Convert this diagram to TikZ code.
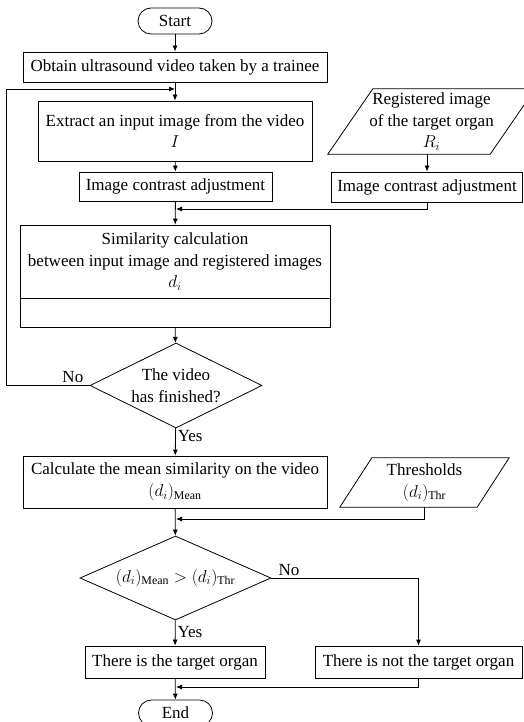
\documentclass[tikz,border=0pt]{standalone}
\usepackage{fontspec}
\setmainfont{Liberation Serif}
\usetikzlibrary{shapes.geometric,arrows.meta}

\begin{document}
\begin{tikzpicture}[x=1pt,y=-1pt,font=\fontsize{17}{21.5}\selectfont,
  box/.style={draw,rectangle,align=center,inner sep=0pt,line width=0.8pt},
  term/.style={draw,rectangle,rounded corners=13pt,minimum width=74,minimum height=26,inner sep=0pt,line width=0.8pt},
  decide/.style={draw,diamond,aspect=2.1,align=center,inner sep=0pt,line width=0.8pt},
  io/.style={align=center,inner sep=0pt},
  flow/.style={-{Latex[length=6pt,width=5pt]},line width=0.8pt},
  lbl/.style={inner sep=2pt}]
\useasboundingbox (0,0) rectangle (523,722);
\node[term] (Start) at (175,21) {Start};
\node[box,minimum width=304,minimum height=30] (Obtain) at (175,67) {Obtain ultrasound video taken by a trainee};
\node[box,minimum width=274,minimum height=60] (Extract) at (175,131) {Extract an input image from the video\\$I$};
\node[box,minimum width=193,minimum height=29] (ContrastL) at (175.5,186.5) {Image contrast adjustment};
\node[io,minimum width=162,minimum height=65] (Reg) at (431.5,121.5) {Registered image\\of the target organ\\$R_i$};
\node[box,minimum width=191,minimum height=30] (ContrastR) at (427,187) {Image contrast adjustment};
\node[box,minimum width=310,minimum height=73] (Sim) at (175,261.5) {Similarity calculation\\between input image and registered images\\$d_i$};
\node[box,minimum width=310,minimum height=29] (SimLow) at (175,312.5) {};
\node[decide,minimum width=172,minimum height=85] (Dec1) at (176,385.5) {The video\\has finished?};
\node[box,minimum width=304,minimum height=52] (Calc) at (175,482) {Calculate the mean similarity on the video\\$(d_i)_{\mathrm{Mean}}$};
\node[io,minimum width=137,minimum height=49] (Thr) at (424.5,482.5) {Thresholds\\$(d_i)_{\mathrm{Thr}}$};
\node[decide,aspect=2.27,minimum width=191,minimum height=84] (Dec2) at (175.5,578) {$(d_i)_{\mathrm{Mean}} > (d_i)_{\mathrm{Thr}}$};
\node[box,minimum width=180,minimum height=32] (Organ) at (175,662) {There is the target organ};
\node[box,minimum width=207,minimum height=32] (NotOrgan) at (418.5,662) {There is not the target organ};
\node[term] (End) at (175.5,713) {End};

\draw[line width=0.8pt] ([xshift=-22.5]Reg.south west) -- ([xshift=-22.5]Reg.south east) -- ([xshift=22.5]Reg.north east) -- ([xshift=22.5]Reg.north west) -- cycle;
\draw[line width=0.8pt] ([xshift=-16]Thr.south west) -- ([xshift=-16]Thr.south east) -- ([xshift=16]Thr.north east) -- ([xshift=16]Thr.north west) -- cycle;

\coordinate (Jloop) at (175,89);
\coordinate (Jreg) at (176,209);
\coordinate (Jthr) at (176,519);
\coordinate (Jend) at (176,687);
\coordinate (Lturn) at (6,385.5);

\path[flow] (Start) edge (Obtain)
(Obtain) edge (Extract)
(Extract) edge (ContrastL)
(Reg.south -| ContrastR.north) edge (ContrastR.north)
(ContrastL) edge (Sim)
(SimLow) edge (Dec1)
(Dec1) edge node[lbl,right,pos=0.3] {Yes} (Calc)
(Calc) edge (Dec2)
(Dec2) edge node[lbl,right,pos=0.45] {Yes} (Organ)
(Organ) edge (End);
\draw[flow] (Dec1.west) -- node[lbl,pos=0.2,above] {No} (Lturn) |- (Jloop);
\draw[flow] (ContrastR.south) |- (Jreg);
\draw[flow] (Thr.south) |- (Jthr);
\draw[flow] (Dec2.east) -| node[lbl,pos=0.06,above] {No} (NotOrgan.north);
\draw[flow] (NotOrgan.south) |- (Jend);
\end{tikzpicture}
\end{document}
